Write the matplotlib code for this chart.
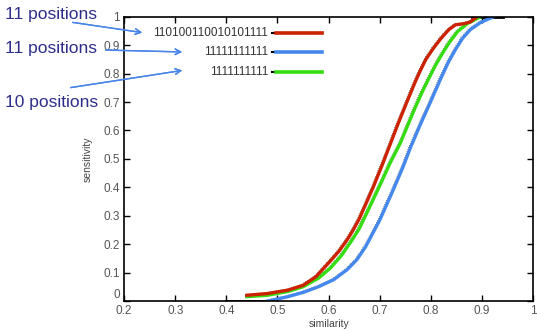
import matplotlib.pyplot as plt
from matplotlib.lines import Line2D

# sensitivity vs similarity curves
red_x = [0.44, 0.48, 0.52, 0.55, 0.575, 0.603, 0.62, 0.636, 0.648, 0.66, 0.687, 0.705, 0.72, 0.736, 0.754, 0.769, 0.779, 0.79, 0.805, 0.82, 0.835, 0.848, 0.865, 0.877, 0.89]
red_y = [0.02, 0.026, 0.038, 0.055, 0.085, 0.14, 0.175, 0.215, 0.25, 0.29, 0.40, 0.48, 0.55, 0.625, 0.705, 0.77, 0.81, 0.85, 0.89, 0.925, 0.955, 0.972, 0.976, 0.982, 1.0]
green_x = [0.44, 0.48, 0.52, 0.55, 0.58, 0.603, 0.625, 0.646, 0.66, 0.672, 0.701, 0.72, 0.74, 0.755, 0.769, 0.784, 0.795, 0.809, 0.822, 0.836, 0.852, 0.871, 0.897]
green_y = [0.015, 0.02, 0.033, 0.05, 0.08, 0.115, 0.16, 0.215, 0.255, 0.30, 0.41, 0.485, 0.555, 0.62, 0.68, 0.74, 0.78, 0.83, 0.87, 0.91, 0.948, 0.976, 1.0]
blue_x = [0.482, 0.52, 0.55, 0.58, 0.61, 0.636, 0.655, 0.672, 0.70, 0.726, 0.745, 0.76, 0.779, 0.799, 0.818, 0.834, 0.848, 0.862, 0.877, 0.897, 0.922]
blue_y = [0.0, 0.015, 0.03, 0.05, 0.075, 0.11, 0.145, 0.19, 0.285, 0.39, 0.47, 0.54, 0.62, 0.70, 0.778, 0.84, 0.885, 0.925, 0.955, 0.98, 1.0]

labels = ["110100110010101111", "11111111111", "1111111111"]
colors = ["#cc2200", "#4488ee", "#33dd11"]
notes = ["11 positions", "11 positions", "10 positions"]

xticks = [0.2, 0.3, 0.4, 0.5, 0.6, 0.7, 0.8, 0.9, 1.0]
xticklabels = ["0.2", "0.3", "0.4", "0.5", "0.6", "0.7", "0.8", "0.9", "1"]
yticks = [0, 0.1, 0.2, 0.3, 0.4, 0.5, 0.6, 0.7, 0.8, 0.9, 1.0]
yticklabels = ["0", "0.1", "0.2", "0.3", "0.4", "0.5", "0.6", "0.7", "0.8", "0.9", "1"]

plt.rcParams['font.family'] = ['Liberation Sans', 'DejaVu Sans']

fig = plt.figure(figsize=(5.37, 3.30), dpi=100)
ax = fig.add_axes([0.231, 0.088, 0.762, 0.861])

# black raw data underneath
ax.plot([0.40, 0.49], [0.0, 0.0], color="black", lw=2)
ax.plot([0.88, 0.94], [1.0, 1.0], color="black", lw=2)
for xs, ys in [(red_x, red_y), (green_x, green_y), (blue_x, blue_y)]:
    ax.plot([x - 0.003 for x in xs], [y + 0.003 for y in ys], color="black", lw=0.6, ls=":", alpha=0.7)

ax.plot(green_x, green_y, color=colors[2], lw=2.4)
ax.plot(blue_x, blue_y, color=colors[1], lw=2.4)
ax.plot(red_x, red_y, color=colors[0], lw=2.4)

ax.set_xlim(0.2, 1.0)
ax.set_ylim(0, 1.0)
ax.set_xticks(xticks)
ax.set_xticklabels(xticklabels)
ax.set_yticks(yticks)
ax.set_yticklabels(yticklabels)
ax.tick_params(direction="in", top=True, right=True, length=4, width=1,
               labelsize=8.5, labelcolor="#555555", pad=3)
ax.get_yticklabels()[0].set_va("bottom")
for s in ax.spines.values():
    s.set_linewidth(1.2)
ax.set_xlabel("similarity", fontsize=7.5, color="#444444", labelpad=1)
ax.set_ylabel("sensitivity", fontsize=7.5, color="#444444", labelpad=8)

# key, gnuplot style: label then line sample
key_y = [0.944, 0.877, 0.806]
for lab, c, ky in zip(labels, colors, key_y):
    ax.text(0.352, ky, lab, transform=ax.transAxes, ha="right", va="center",
            fontsize=8.5, color="#333333")
    ax.add_line(Line2D([0.362, 0.372], [ky, ky], transform=ax.transAxes, color="black", lw=1.5))
    ax.add_line(Line2D([0.372, 0.484], [ky, ky], transform=ax.transAxes, color=c, lw=2.6))

# annotations with arrows, in figure pixels
note_pos = [(5, 15), (5, 48), (5, 103)]
arrow_from = [(70, 22), (103, 50), (68, 88)]
arrow_to = [(145, 33), (185, 52), (185, 70)]
for n, (tx, ty), (fx, fy), (ex, ey) in zip(notes, note_pos, arrow_from, arrow_to):
    fig.text(tx / 537, 1 - ty / 330, n, fontsize=12.5, color="#2e2e8a", va="center", ha="left")
    fig.add_artist(plt.annotate("", xy=(ex / 537, 1 - ey / 330), xycoords="figure fraction",
                                xytext=(fx / 537, 1 - fy / 330), textcoords="figure fraction",
                                arrowprops=dict(arrowstyle="->", color="#4a86e8", lw=1)))

fig.savefig("out.png", dpi=100)
